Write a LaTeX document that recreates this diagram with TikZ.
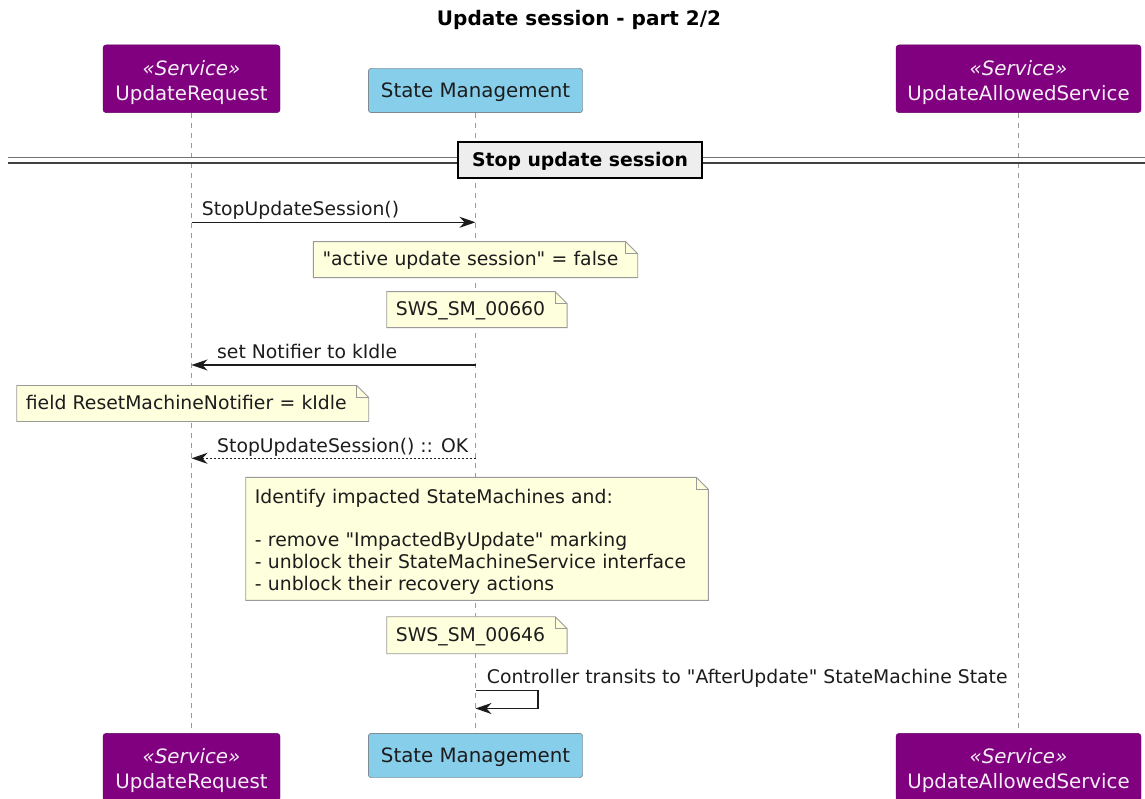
\documentclass[tikz,border=0pt]{standalone}
\usepackage{fontspec}
\setmainfont{DejaVu Sans}[Ligatures=TeXOff]
\usetikzlibrary{arrows.meta}
\pgfdeclarelayer{background}
\pgfsetlayers{background,main}

\definecolor{svc}{HTML}{800080}
\definecolor{svctext}{HTML}{F6EEF6}
\definecolor{smfill}{HTML}{87CEEB}
\definecolor{notefill}{HTML}{FEFFDD}
\definecolor{noteedge}{HTML}{9A9A9A}
\definecolor{lifegray}{HTML}{9A9A9A}
\definecolor{divfill}{HTML}{EEEEEE}
\definecolor{ink}{HTML}{1C1C1C}

\tikzset{
  svcbox/.style={fill=svc, draw=svc!80!black, rounded corners=3pt, text=svctext,
    align=center, inner sep=0pt, minimum width=177pt, minimum height=67.7pt,
    font=\fontsize{19.8}{25}\selectfont},
  smbox/.style={fill=smfill, draw=gray!75!black, rounded corners=3pt, text=ink,
    inner sep=0pt, minimum width=214.4pt, minimum height=44.4pt,
    text height=18.1pt, text depth=4.5pt, font=\fontsize{19.8}{25}\selectfont},
  lifeline/.style={draw=lifegray, line width=0.9pt, dash pattern=on 5pt off 5pt},
  note/.style={anchor=north west, align=left, inner xsep=9pt, inner ysep=0pt,
    text=ink, font=\fontsize{18.8}{21.7}\selectfont},
  oneline/.style={text height=16pt, text depth=4pt},
  notebox/.style={fill=notefill, draw=noteedge, line width=0.9pt},
  msg/.style={draw=ink, line width=1.3pt, -{Stealth[length=16pt,width=11pt,inset=5pt]}},
  reply/.style={msg, dash pattern=on 2pt off 2pt},
  lbl/.style={anchor=base west, inner sep=0pt, text=ink, font=\fontsize{18.8}{21.7}\selectfont},
  divbox/.style={fill=divfill, draw=black, line width=2pt, inner sep=0pt,
    minimum width=243.4pt, minimum height=36.6pt, text height=17.8pt, text depth=4.4pt,
    font=\bfseries\fontsize{18.8}{21.7}\selectfont},
  divtop/.style={draw=black!55, line width=1.2pt},
  divbot/.style={draw=black!75, line width=1.8pt},
}

% top strut for two-line participant captions
\newcommand\capstrut{\rule{0pt}{22pt}}

% folded-corner outline drawn behind a note's text
\newcommand\foldnote[1]{%
  \begin{pgfonlayer}{background}
    \draw[notebox] (#1.south west) -- (#1.north west) -- ([xshift=-12pt]#1.north east)
      -- ([yshift=-12pt]#1.north east) -- (#1.south east) -- cycle;
    \draw[draw=noteedge, line width=0.9pt] ([xshift=-12pt]#1.north east)
      -- ([xshift=-12pt,yshift=-12pt]#1.north east) -- ([yshift=-12pt]#1.north east);
  \end{pgfonlayer}}

\begin{document}
\begin{tikzpicture}[x=1pt,y=-1pt]
\useasboundingbox (0,0) rectangle (1145,799);

% title
\node[anchor=base, inner sep=0pt, font=\bfseries\fontsize{20}{24}\selectfont, text=black] (title) at (579,26) {Update session - part 2/2};

% participants, top row
\node[svcbox] (urTop) at (191.5,78.8) {\capstrut\textit{«Service»}\\UpdateRequest};
\node[smbox] (smTop) at (475.5,90.5) {State Management};
\node[svcbox, minimum width=245pt] (uaTop) at (1018.5,78.8) {\capstrut\textit{«Service»}\\UpdateAllowedService};

% participants, bottom row
\node[svcbox] (urBot) at (191.5,767.2) {\capstrut\textit{«Service»}\\UpdateRequest};
\node[smbox] (smBot) at (475.5,755.5) {State Management};
\node[svcbox, minimum width=245pt] (uaBot) at (1018.5,767.2) {\capstrut\textit{«Service»}\\UpdateAllowedService};

% lifelines
\begin{pgfonlayer}{background}
  \draw[lifeline] (urTop.south) -- (urBot.north);
  \draw[lifeline] (smTop.south) -- (smBot.north);
  \draw[lifeline] (uaTop.south) -- (uaBot.north);
\end{pgfonlayer}

% section divider
\coordinate (divL) at (8,160);
\coordinate (divR) at (1145,160);
\draw[divtop] ([yshift=2.7pt]divL) -- ([yshift=2.7pt]divR);
\draw[divbot] ([yshift=-2.7pt]divL) -- ([yshift=-2.7pt]divR);
\node[divbox] (div) at (580,160) {Stop update session};

% StopUpdateSession()
\draw[msg] (urTop |- 0,222.3) -- (smTop |- 0,222.3);
\node[lbl] (m1) at (201.7,215.5) {StopUpdateSession()};

\node[note, oneline, text width=306pt, minimum height=35.6pt] (n1) at (313.3,241.7) {"active update session" = false};
\foldnote{n1}
\node[note, oneline, text width=162pt, minimum height=35.6pt] (n2) at (386.7,291.7) {SWS\_SM\_00660};
\foldnote{n2}

% set Notifier to kIdle
\draw[msg] (smTop |- 0,365) -- (urTop |- 0,365);
\node[lbl] (m2) at (217,359) {set Notifier to kIdle};

\node[note, oneline, text width=333.6pt, minimum height=35.6pt] (n3) at (16.7,385.5) {field ResetMachineNotifier = kIdle};
\foldnote{n3}

% reply
\draw[reply] (smTop |- 0,458.3) -- (urTop |- 0,458.3);
\node[lbl] (m3) at (217,452) {StopUpdateSession() :: OK};

\node[note, text width=444.3pt, minimum height=122.7pt] (n4) at (245.7,477.3) {\rule{0pt}{21.1pt}Identify impacted StateMachines and:\\[21.7pt]- remove "ImpactedByUpdate" marking\\- unblock their StateMachineService interface\\- unblock their recovery actions\rule[-5pt]{0pt}{0pt}};
\foldnote{n4}
\node[note, oneline, text width=162pt, minimum height=36.6pt] (n5) at (386.7,616.7) {SWS\_SM\_00646};
\foldnote{n5}

% self message
\coordinate (selfA) at (538,690.7);
\coordinate (selfB) at (538,708.5);
\draw[msg] (smTop |- selfA) -- (selfA) -- (selfB) -- (smTop |- selfB);
\node[lbl] (m4) at (486.7,683.3) {Controller transits to "AfterUpdate" StateMachine State};

\end{tikzpicture}
\end{document}
